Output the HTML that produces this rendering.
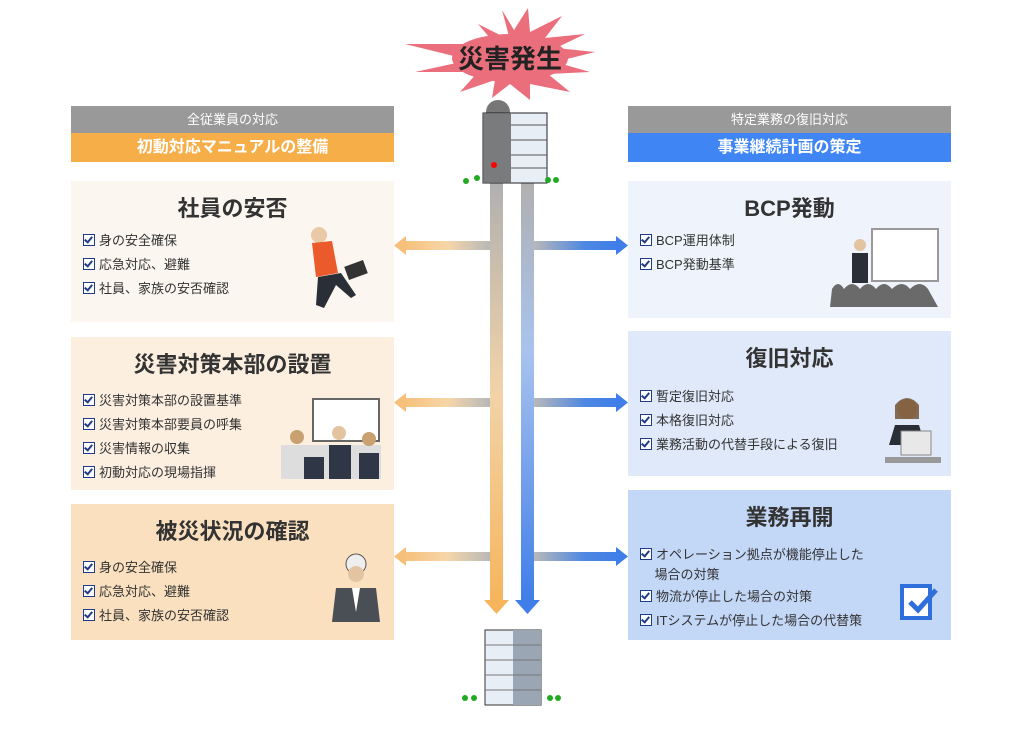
<!DOCTYPE html>
<html><head><meta charset="utf-8"><style>
body{margin:0;width:1011px;height:742px;background:#fff;position:relative;overflow:hidden;font-family:"Liberation Sans","Noto Sans CJK JP",sans-serif;color:#333}
.a{position:absolute}
.hg{background:#999;color:#fff;font-size:13px;text-align:center;line-height:27px}
.hc{color:#fff;font-size:16px;font-weight:bold;text-align:center;line-height:29px}
.box .t{font-size:22px;font-weight:bold;text-align:center;color:#333;margin-top:10px}
.li{font-size:13px;line-height:24px;padding-left:12px}
.li span{display:inline-block;width:10px;height:10px;border:1.5px solid #1f3c88;margin-right:4px;vertical-align:-1px;position:relative;background:#fff}
.li span:after{content:"";position:absolute;left:2px;top:0;width:3px;height:6px;border:solid #1f3c88;border-width:0 2px 2px 0;transform:rotate(40deg)}
</style></head><body>
<div class="a hg" style="left:71px;top:106px;width:323px;height:27px">全従業員の対応</div>
<div class="a hc" style="left:71px;top:133px;width:323px;height:29px;background:#f6ae48">初動対応マニュアルの整備</div>
<div class="a hg" style="left:628px;top:106px;width:323px;height:27px">特定業務の復旧対応</div>
<div class="a hc" style="left:628px;top:133px;width:323px;height:29px;background:#3f86f4">事業継続計画の策定</div>

<div class="a box" style="left:71px;top:181px;width:323px;height:141px;background:#fbf7f0">
<div class="t">社員の安否</div>
<div style="margin-top:6px"><div class="li"><span></span>身の安全確保</div><div class="li"><span></span>応急対応、避難</div><div class="li"><span></span>社員、家族の安否確認</div></div>
<svg class="a" style="left:225px;top:42px" width="90" height="88"><circle cx="23" cy="12" r="8" fill="#e9c9a8"/><path d="M16 20 L36 18 L42 50 L20 54Z" fill="#ea5a2a"/><path d="M22 54 L45 50 L60 72 L55 75 L40 62 L28 85 L20 82Z" fill="#2a2e36"/><rect x="50" y="40" width="20" height="14" fill="#333" transform="rotate(-20 60 47)"/></svg>
</div>
<div class="a box" style="left:71px;top:337px;width:323px;height:153px;background:#fcefe0">
<div class="t">災害対策本部の設置</div>
<div style="margin-top:10px"><div class="li"><span></span>災害対策本部の設置基準</div><div class="li"><span></span>災害対策本部要員の呼集</div><div class="li"><span></span>災害情報の収集</div><div class="li"><span></span>初動対応の現場指揮</div></div>
<svg class="a" style="left:208px;top:60px" width="105" height="82"><rect x="34" y="2" width="66" height="42" fill="#fff" stroke="#666" stroke-width="2"/><rect x="2" y="48" width="100" height="34" fill="#ddd"/><circle cx="18" cy="40" r="7" fill="#c9a070"/><circle cx="60" cy="36" r="7" fill="#e3c4a0"/><circle cx="90" cy="42" r="7" fill="#c9a070"/><path d="M25 60 h20 v22 h-20z M50 48 h22 v34 h-22z M80 56 h20 v26 h-20z" fill="#2f3646"/></svg>
</div>
<div class="a box" style="left:71px;top:504px;width:323px;height:136px;background:#fae0bf">
<div class="t">被災状況の確認</div>
<div style="margin-top:10px"><div class="li"><span></span>身の安全確保</div><div class="li"><span></span>応急対応、避難</div><div class="li"><span></span>社員、家族の安否確認</div></div>
<svg class="a" style="left:255px;top:48px" width="60" height="72"><circle cx="30" cy="12" r="10" fill="#eee" stroke="#555"/><circle cx="30" cy="22" r="8" fill="#e3c4a0"/><path d="M6 70 L10 36 L50 36 L54 70Z" fill="#4a4f55"/><path d="M26 36 L34 36 L30 60Z" fill="#fff"/></svg>
</div>

<div class="a box" style="left:628px;top:181px;width:323px;height:137px;background:#eff4fc">
<div class="t">BCP発動</div>
<div style="margin-top:6px"><div class="li"><span></span>BCP運用体制</div><div class="li"><span></span>BCP発動基準</div></div>
<svg class="a" style="left:202px;top:46px" width="110" height="80"><rect x="42" y="2" width="66" height="52" fill="#fff" stroke="#999" stroke-width="2"/><circle cx="30" cy="18" r="6" fill="#e3c4a0"/><path d="M22 26 h16 v30 h-16z" fill="#2a2e36"/><path d="M0 80 L2 62 Q8 52 14 62 Q22 52 30 62 Q38 52 46 62 Q54 52 62 62 Q72 52 80 62 Q90 52 98 62 L108 80Z" fill="#6a6a6a"/></svg>
</div>
<div class="a box" style="left:628px;top:331px;width:323px;height:145px;background:#dfe9f9">
<div class="t">復旧対応</div>
<div style="margin-top:12px"><div class="li"><span></span>暫定復旧対応</div><div class="li"><span></span>本格復旧対応</div><div class="li"><span></span>業務活動の代替手段による復旧</div></div>
<svg class="a" style="left:255px;top:64px" width="60" height="72"><circle cx="24" cy="14" r="10" fill="#e3c4a0"/><path d="M12 10 Q24 -4 36 10 L36 24 L12 24Z" fill="#6b4a2a" opacity=".8"/><path d="M6 50 L12 30 L36 30 L42 50Z" fill="#2a2e36"/><rect x="18" y="36" width="30" height="24" fill="#e8e8e8" stroke="#888"/><rect x="2" y="62" width="56" height="6" fill="#999"/></svg>
</div>
<div class="a box" style="left:628px;top:490px;width:323px;height:150px;background:#c3d7f7">
<div class="t">業務再開</div>
<div style="margin-top:13px;line-height:20px"><div class="li" style="line-height:20px"><span></span>オペレーション拠点が機能停止した<br>&nbsp;&nbsp;&nbsp;&nbsp;場合の対策</div><div class="li"><span></span>物流が停止した場合の対策</div><div class="li"><span></span>ITシステムが停止した場合の代替策</div></div>
<svg class="a" style="left:270px;top:90px" width="42" height="42"><rect x="4" y="6" width="28" height="32" fill="#fff" stroke="#2f6fdb" stroke-width="4"/><path d="M12 22 L20 30 L38 10" fill="none" stroke="#2f6fdb" stroke-width="5"/></svg>
</div>

<svg class="a" style="left:0;top:0" width="1011" height="742">
<defs>
<linearGradient id="gl" x1="0" y1="0" x2="0" y2="1"><stop offset="0" stop-color="#b0b0b0"/><stop offset=".5" stop-color="#f2d3a8"/><stop offset="1" stop-color="#f6b55c"/></linearGradient>
<linearGradient id="gr" x1="0" y1="0" x2="0" y2="1"><stop offset="0" stop-color="#b0b0b0"/><stop offset=".4" stop-color="#a9c3ee"/><stop offset="1" stop-color="#3f7ee8"/></linearGradient>
<linearGradient id="hl" x1="1" y1="0" x2="0" y2="0"><stop offset="0" stop-color="#b8b8b8"/><stop offset=".5" stop-color="#f6d6a8"/><stop offset="1" stop-color="#f6c07a"/></linearGradient>
<linearGradient id="hr" x1="0" y1="0" x2="1" y2="0"><stop offset="0" stop-color="#b8b8b8"/><stop offset=".6" stop-color="#4f88e2"/><stop offset="1" stop-color="#3f7ee8"/></linearGradient>
</defs>
<rect x="490" y="182" width="13" height="420" fill="url(#gl)"/>
<path d="M484 600 L509 600 L496.5 614Z" fill="#f6b55c"/>
<rect x="521" y="182" width="13" height="420" fill="url(#gr)"/>
<path d="M515 600 L540 600 L527.5 614Z" fill="#3f7ee8"/>
<g>
<rect x="404" y="241" width="86" height="9" fill="url(#hl)"/><path d="M394 245.5 L406 236 L406 255Z" fill="#f6c07a"/>
<rect x="404" y="398" width="86" height="9" fill="url(#hl)"/><path d="M394 402.5 L406 393 L406 412Z" fill="#f6c07a"/>
<rect x="404" y="552" width="86" height="9" fill="url(#hl)"/><path d="M394 556.5 L406 547 L406 566Z" fill="#f6c07a"/>
<rect x="534" y="241" width="84" height="9" fill="url(#hr)"/><path d="M628 245.5 L616 236 L616 255Z" fill="#3f7ee8"/>
<rect x="534" y="398" width="84" height="9" fill="url(#hr)"/><path d="M628 402.5 L616 393 L616 412Z" fill="#3f7ee8"/>
<rect x="534" y="552" width="84" height="9" fill="url(#hr)"/><path d="M628 556.5 L616 547 L616 566Z" fill="#3f7ee8"/>
</g>
<path d="M510 40 L478 24 L495 44 L405 44 L470 60 L415 72 L478 72 L460 92 L495 80 L492 98 L510 84 L530 100 L530 84 L570 92 L548 74 L590 72 L555 62 L595 52 L556 48 L585 34 L545 38 L562 16 L530 32 L528 8 L514 30 L502 10Z" fill="#eb6e7c"/>
<ellipse cx="510" cy="58" rx="58" ry="24" fill="#eb6e7c"/>
<text x="510" y="68" font-size="26" font-weight="bold" text-anchor="middle" fill="#222" font-family="Liberation Sans,Noto Sans CJK JP,sans-serif">災害発生</text>
<circle cx="498" cy="112" r="12" fill="#777"/>
<rect x="483" y="113" width="64" height="70" fill="#e8eef6" stroke="#222"/>
<rect x="483" y="113" width="28" height="70" fill="#666" opacity=".85"/>
<g stroke="#555"><line x1="511" y1="125" x2="547" y2="125"/><line x1="511" y1="140" x2="547" y2="140"/><line x1="511" y1="155" x2="547" y2="155"/><line x1="511" y1="168" x2="547" y2="168"/></g>
<circle cx="494" cy="165" r="3" fill="red"/>
<g fill="#2a2"><circle cx="466" cy="181" r="3"/><circle cx="477" cy="178" r="3"/><circle cx="548" cy="180" r="3"/><circle cx="556" cy="180" r="3"/></g>
<rect x="485" y="630" width="56" height="75" fill="#e8eef6" stroke="#333"/>
<rect x="513" y="630" width="28" height="75" fill="#9aa6b4"/>
<g stroke="#777"><line x1="485" y1="645" x2="541" y2="645"/><line x1="485" y1="660" x2="541" y2="660"/><line x1="485" y1="675" x2="541" y2="675"/><line x1="485" y1="690" x2="541" y2="690"/></g>
<g fill="#2a2"><circle cx="465" cy="698" r="3"/><circle cx="474" cy="698" r="3"/><circle cx="550" cy="698" r="3"/><circle cx="558" cy="698" r="3"/></g>
</svg>
</body></html>
